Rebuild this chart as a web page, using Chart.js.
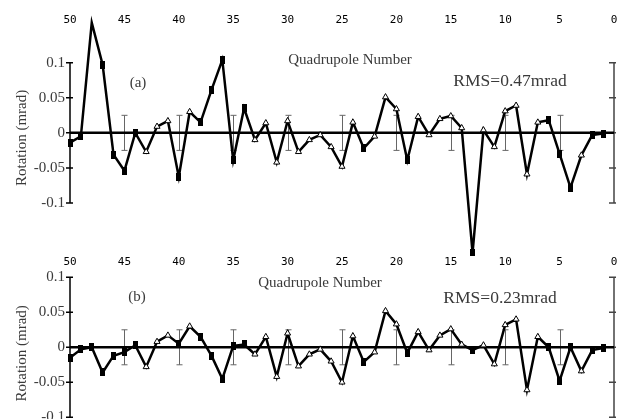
<!DOCTYPE html>
<html>
<head>
<meta charset="utf-8">
<script src="https://cdn.jsdelivr.net/npm/chart.js@4.4.1/dist/chart.umd.min.js"></script>
<style>
  html, body { margin: 0; padding: 0; background: #fff; overflow: hidden; }
  #wrap { position: relative; width: 623px; height: 419px; }
  canvas { position: absolute; left: 0; }
  #chartA { top: 0; }
  #chartB { top: 256px; }
</style>
</head>
<body>
<div id="wrap">
  <canvas id="chartA" width="623" height="256"></canvas>
  <canvas id="chartB" width="623" height="163"></canvas>
</div>
<script>
// quadrupole numbers, right to left on the plot
const quads = [50, 49, 48, 47, 46, 45, 44, 43, 42, 41, 40, 39, 38, 37, 36, 35, 34, 33, 32, 31,
  30, 29, 28, 27, 26, 25, 24, 23, 22, 21, 20, 19, 18, 17, 16, 15, 14, 13, 12, 11,
  10, 9, 8, 7, 6, 5, 4, 3, 2, 1];

// s = filled square, t = open triangle
const markerKind = ['s', 's', 's', 's', 's', 's', 's', 't', 't', 't', 's', 't', 's', 's', 's', 's', 's', 't', 't', 't',
  't', 't', 't', 't', 't', 't', 't', 's', 't', 't', 't', 's', 't', 't', 't', 't', 't', 's', 't', 't',
  't', 't', 't', 't', 's', 's', 's', 't', 's', 's'];

// (a) rotation, mrad
const rotationA = [-0.014, -0.005, 0.157, 0.097, -0.031, -0.054, 0.000, -0.027, 0.009, 0.017,
  -0.063, 0.030, 0.015, 0.061, 0.104, -0.039, 0.035, -0.010, 0.014, -0.042,
  0.017, -0.027, -0.010, -0.003, -0.020, -0.048, 0.015, -0.022, -0.005, 0.051,
  0.034, -0.039, 0.023, -0.003, 0.020, 0.024, 0.007, -0.171, 0.004, -0.020,
  0.031, 0.039, -0.059, 0.015, 0.018, -0.030, -0.078, -0.032, -0.003, -0.001];

// (b) rotation, mrad
const rotationB = [-0.015, -0.003, 0.000, -0.036, -0.012, -0.007, 0.003, -0.028, 0.008, 0.017,
  0.005, 0.030, 0.015, -0.012, -0.045, 0.002, 0.004, -0.010, 0.015, -0.042,
  0.020, -0.027, -0.010, -0.003, -0.020, -0.050, 0.016, -0.021, -0.007, 0.052,
  0.033, -0.008, 0.022, -0.004, 0.017, 0.026, 0.004, -0.004, 0.003, -0.024,
  0.032, 0.040, -0.061, 0.015, 0.000, -0.048, 0.000, -0.034, -0.004, -0.001];

// measurement error bars
const errQuads = [45, 40, 35, 30, 25, 20, 15, 10, 5];
const errHalf = [0.025, 0.025, 0.025, 0.025, 0.025, 0.025, 0.025, 0.025, 0.025];

const yTicks = [0.1, 0.05, 0, -0.05, -0.1];
const yTickLabels = ['0.1', '0.05', '0', '-0.05', '-0.1'];
const xTicks = [50, 45, 40, 35, 30, 25, 20, 15, 10, 5, 0];

// small tall square marker
const squareImg = document.createElement('canvas');
squareImg.width = 5;
squareImg.height = 8;
const sq = squareImg.getContext('2d');
sq.fillStyle = '#000';
sq.fillRect(0, 0, 5, 8);

const serif = '"Liberation Serif", "DejaVu Serif", serif';

// axes between +-0.1, zero line, error bars and labels
const framePlugin = {
  id: 'frame',
  beforeDatasetsDraw(chart, args, opts) {
    const { ctx, scales } = chart;
    const y = scales.y, x = scales.x;
    const yTop = y.getPixelForValue(0.1), yBot = y.getPixelForValue(-0.1);
    const left = x.getPixelForValue(50), right = x.getPixelForValue(0);
    ctx.save();
    // error bars
    ctx.strokeStyle = '#666';
    ctx.lineWidth = 1;
    errQuads.forEach((q, i) => {
      const px = Math.round(x.getPixelForValue(q)) + 0.5;
      const hi = y.getPixelForValue(errHalf[i]), lo = y.getPixelForValue(-errHalf[i]);
      ctx.beginPath();
      ctx.moveTo(px, hi); ctx.lineTo(px, lo);
      ctx.moveTo(px - 3, hi); ctx.lineTo(px + 3, hi);
      ctx.moveTo(px - 3, lo); ctx.lineTo(px + 3, lo);
      ctx.stroke();
    });
    // left axis
    ctx.strokeStyle = '#000';
    ctx.lineWidth = 1.5;
    ctx.beginPath();
    ctx.moveTo(left, yTop); ctx.lineTo(left, yBot);
    yTicks.forEach(v => {
      const py = y.getPixelForValue(v);
      ctx.moveTo(left - 4, py); ctx.lineTo(left + 3, py);
    });
    ctx.stroke();
    // right axis
    ctx.strokeStyle = '#444';
    ctx.beginPath();
    ctx.moveTo(right, yTop); ctx.lineTo(right, yBot);
    yTicks.forEach(v => {
      const py = y.getPixelForValue(v);
      ctx.moveTo(right - 5, py); ctx.lineTo(right + 2, py);
    });
    ctx.stroke();
    // zero line
    ctx.strokeStyle = '#000';
    ctx.lineWidth = 2.5;
    ctx.beginPath();
    const p0 = y.getPixelForValue(0);
    ctx.moveTo(left, p0); ctx.lineTo(right, p0);
    ctx.stroke();
    ctx.restore();
  },
  afterDraw(chart, args, opts) {
    const { ctx, scales } = chart;
    const p0 = scales.y.getPixelForValue(0);
    ctx.save();
    ctx.fillStyle = '#3a3a3a';
    ctx.textAlign = 'center';
    ctx.textBaseline = 'middle';
    opts.labels.forEach(l => {
      ctx.font = l.size + 'px ' + serif;
      ctx.fillText(l.text, l.x, l.y);
    });
    // y axis title
    ctx.font = '15px ' + serif;
    ctx.translate(22, p0 + opts.titleShift);
    ctx.rotate(-Math.PI / 2);
    ctx.fillText('Rotation (mrad)', 0, 0);
    ctx.restore();
  }
};

function noPad(s) {
  s.paddingTop = 0;
  s.paddingBottom = 0;
  s.paddingLeft = 0;
  s.paddingRight = 0;
}

function makeChart(id, values, yMin, yMax, axisHeight, tickPad, labels, titleShift) {
  return new Chart(document.getElementById(id), {
    type: 'line',
    data: {
      datasets: [{
        data: quads.map((q, i) => ({ x: q, y: values[i] })),
        borderColor: '#000',
        borderWidth: 2.5,
        tension: 0,
        clip: false,
        pointStyle: markerKind.map(k => k === 's' ? squareImg : 'triangle'),
        pointRadius: markerKind.map(k => k === 's' ? 3 : 3.5),
        pointBackgroundColor: '#fff',
        pointBorderColor: '#000',
        pointBorderWidth: 1
      }]
    },
    options: {
      responsive: false,
      devicePixelRatio: 1,
      animation: false,
      events: [],
      layout: { padding: { left: 0, right: 9, top: 0, bottom: 0 } },
      plugins: {
        legend: { display: false },
        tooltip: { enabled: false },
        frame: { labels: labels, titleShift: titleShift }
      },
      scales: {
        x: {
          type: 'linear',
          position: 'top',
          reverse: true,
          min: 0,
          max: 50,
          afterBuildTicks: s => { s.ticks = xTicks.map(v => ({ value: v })); },
          afterFit: s => { s.height = axisHeight; noPad(s); },
          grid: { display: false, drawTicks: false },
          border: { display: false },
          ticks: {
            padding: tickPad,
            color: '#000',
            font: { family: '"DejaVu Sans Mono", monospace', size: 11 },
            maxRotation: 0
          }
        },
        y: {
          min: yMin,
          max: yMax,
          afterBuildTicks: s => { s.ticks = yTicks.map(v => ({ value: v })); },
          afterFit: s => { s.width = 70; noPad(s); },
          grid: { display: false, drawTicks: false },
          border: { display: false },
          ticks: {
            padding: 5,
            color: '#3a3a3a',
            font: { family: serif, size: 15 },
            callback: v => yTickLabels[yTicks.indexOf(v)]
          }
        }
      }
    },
    plugins: [framePlugin]
  });
}

makeChart('chartA', rotationA, -0.1684, 0.1352, 38, 11, [
  { text: 'Quadrupole Number', x: 350, y: 60, size: 15 },
  { text: '(a)', x: 138, y: 83, size: 15 },
  { text: 'RMS=0.47mrad', x: 510, y: 81, size: 17.5 }
], 5);

makeChart('chartB', rotationB, -0.0953, 0.1004, 21, 8, [
  { text: 'Quadrupole Number', x: 320, y: 27, size: 15 },
  { text: '(b)', x: 137, y: 41, size: 15 },
  { text: 'RMS=0.23mrad', x: 500, y: 42, size: 17.5 }
], 6);
</script>
</body>
</html>
